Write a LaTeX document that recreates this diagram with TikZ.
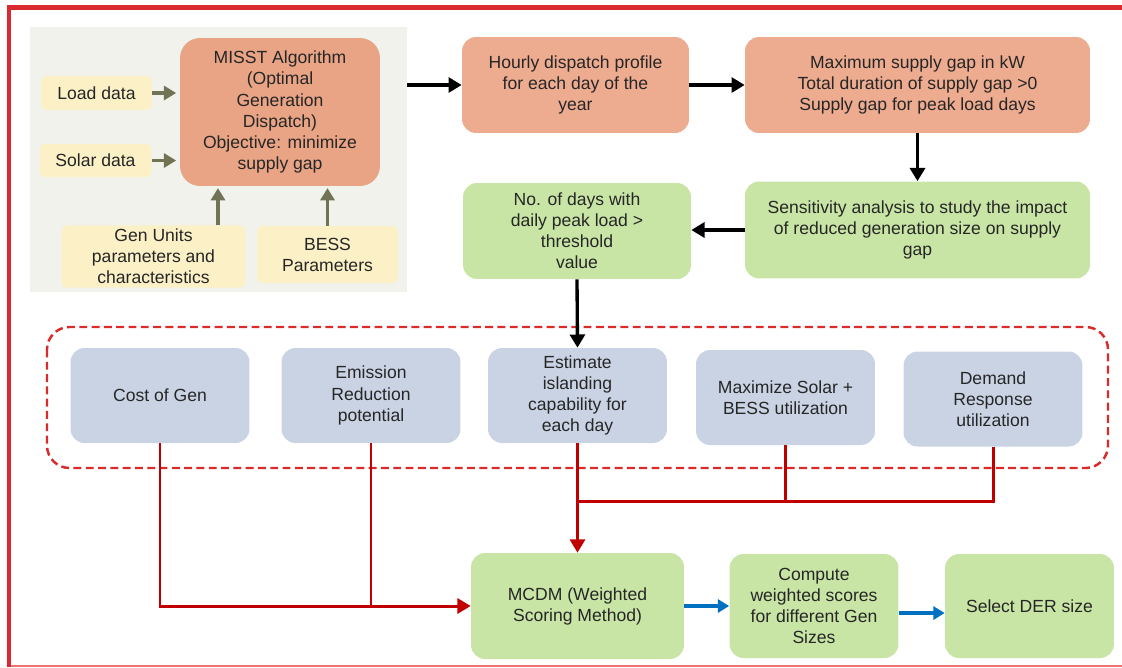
\documentclass[tikz,border=0pt]{standalone}
\usepackage{fontspec}
\setmainfont{Liberation Sans}
\usetikzlibrary{arrows.meta}
\definecolor{framered}{HTML}{D92B2F}
\definecolor{framelight}{HTML}{F07373}
\definecolor{dashred}{HTML}{DA2A2A}
\definecolor{linkred}{HTML}{C00000}
\definecolor{linkblue}{HTML}{0070C0}
\definecolor{olive}{HTML}{727254}
\definecolor{misstfill}{HTML}{E8A485}
\definecolor{salmonfill}{HTML}{EDAB90}
\definecolor{greenfill}{HTML}{C9E5A6}
\definecolor{greyblue}{HTML}{CAD3E4}
\definecolor{inputfill}{HTML}{FBF0C6}
\definecolor{panelfill}{HTML}{F2F2ED}
\definecolor{txt}{HTML}{262626}
\tikzset{
  box/.style={rounded corners=0.28cm, align=center, inner sep=2pt, text=txt,
    font=\fontsize{10}{12}\selectfont},
  inbox/.style={box, rounded corners=0.12cm, fill=inputfill},
  salmonbox/.style={box, fill=salmonfill, minimum height=1.92cm},
  greenbox/.style={box, fill=greenfill},
  critbox/.style={box, fill=greyblue, minimum width=3.58cm, minimum height=1.9cm},
  inarrow/.style={olive, line width=1.8pt, -{Triangle[length=7pt,width=8pt]}},
  flow/.style={black, line width=1.9pt, -{Triangle[length=7.5pt,width=8.5pt]}},
  redlink/.style={linkred, line width=1.7pt},
  bluelink/.style={linkblue, line width=1.8pt, -{Triangle[length=6.5pt,width=7.5pt]}}
}
\begin{document}
\begin{tikzpicture}[x=0.02cm,y=-0.02cm]
  \useasboundingbox (0,0) rectangle (1122,667);
  % frame
  \draw[framered, line width=2.3pt] (9,667) -- (9,7.5) -- (1122,7.5);
  \draw[framelight, line width=0.8pt] (11,666) -- (1122,666);
  % input panel
  \node[fill=panelfill, minimum width=7.54cm, minimum height=5.3cm, inner sep=0pt] (panel) at (218.5,159.5) {};
  \node[box, fill=misstfill, rounded corners=0.4cm, minimum width=4cm, minimum height=2.96cm] (misst) at (280,112)
    {MISST Algorithm\\(Optimal\\Generation\\Dispatch)\\Objective: minimize\\supply gap};
  \node[inbox, minimum width=2.22cm, minimum height=0.68cm] (load) at (96.5,93) {Load data};
  \node[inbox, minimum width=2.24cm, minimum height=0.66cm] (solar) at (95.5,160.5) {Solar data};
  \node[inbox, minimum width=3.68cm, minimum height=1.22cm] (gen) at (153.5,256.5) {Gen Units\\parameters and\\characteristics};
  \node[inbox, minimum width=2.82cm, minimum height=1.14cm] (bess) at (327.5,254.5) {BESS\\Parameters};
  % dispatch results
  \node[salmonbox, minimum width=4.54cm] (hourly) at (575.5,85) {Hourly dispatch profile\\for each day of the\\year};
  \node[salmonbox, minimum width=6.9cm] (gap) at (917.5,85)
    {Maximum supply gap in kW\\Total duration of supply gap >0\\Supply gap for peak load days};
  \node[greenbox, minimum width=6.9cm, minimum height=1.94cm] (sens) at (917.5,230)
    {Sensitivity analysis to study the impact\\of reduced generation size on supply\\gap};
  \node[greenbox, minimum width=4.56cm, minimum height=1.92cm] (days) at (577,231)
    {No. of days with\\daily peak load >\\threshold\\value};
  % criteria
  \draw[dashred, line width=1.4pt, dash pattern=on 4.5pt off 2.5pt, rounded corners=0.45cm] (47,327) rectangle (1108,468);
  \node[critbox] (cost) at (160,395.5) {Cost of Gen};
  \node[critbox] (emis) at (371,395.5) {Emission\\Reduction\\potential};
  \node[critbox] (isl) at (577.5,395.5) {Estimate\\islanding\\capability for\\each day};
  \node[critbox] (solbess) at (785.5,397.5) {Maximize Solar +\\BESS utilization};
  \node[critbox] (dr) at (993,399) {Demand\\Response\\utilization};
  % scoring
  \node[greenbox, minimum width=4.26cm, minimum height=2.12cm] (mcdm) at (577.5,606) {MCDM (Weighted\\Scoring Method)};
  \node[greenbox, minimum width=3.38cm, minimum height=2.08cm] (score) at (814,606)
    {Compute\\weighted scores\\for different Gen\\Sizes};
  \node[greenbox, minimum width=3.38cm, minimum height=2.08cm] (der) at (1029.5,606) {Select DER size};
  \coordinate (join) at (577.5,501);
  % inputs
  \draw[inarrow, shorten >=2pt] (load.east) -- (load.east -| misst.west);
  \draw[inarrow, shorten >=2pt] (solar.east) -- (solar.east -| misst.west);
  \draw[inarrow, shorten >=1pt] ([xshift=1.29cm]gen.north) -- ([xshift=1.29cm]gen.north |- misst.south);
  \draw[inarrow, shorten >=1pt] (bess.north) -- (bess.north |- misst.south);
  % main flow
  \begin{scope}[flow]
    \draw (panel.east |- hourly.west) -- (hourly.west);
    \draw (hourly.east) -- (gap.west);
    \draw (gap.south) -- (sens.north);
    \draw (sens.west) -- (sens.west -| days.east);
    \draw (days.south) -- (isl.north);
  \end{scope}
  \begin{scope}[redlink]
    \draw[-{Triangle[length=7.5pt,width=8.5pt]}] (cost.south) |- (mcdm.west);
    \draw (emis.south) -- (emis.south |- mcdm.west);
    \draw[-{Triangle[length=7.5pt,width=8.5pt]}] (isl.south) -- (mcdm.north);
    \draw (solbess.south) |- (join);
    \draw (dr.south) |- (join);
  \end{scope}
  \draw[bluelink] (mcdm.east) -- (mcdm.east -| score.west);
  \draw[bluelink] ([yshift=-4pt]score.east) -- ([yshift=-4pt]score.east -| der.west);
\end{tikzpicture}
\end{document}
